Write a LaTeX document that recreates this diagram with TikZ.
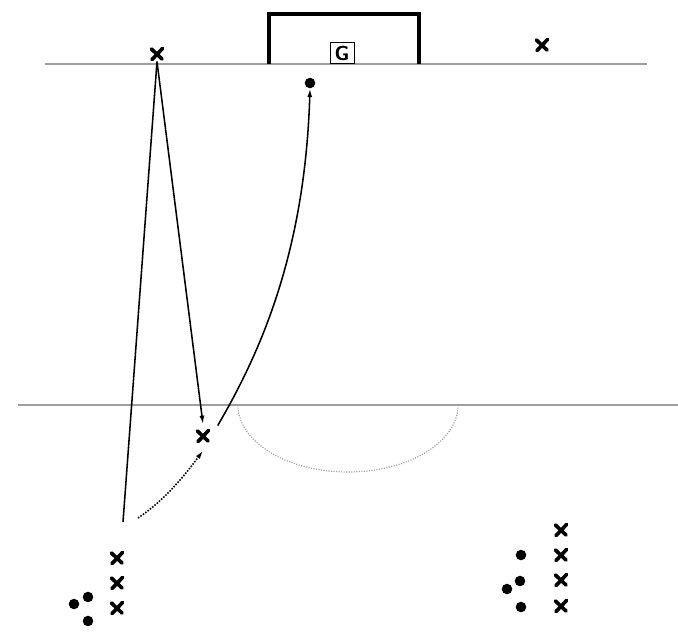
\documentclass[tikz,border=0pt]{standalone}
\usetikzlibrary{arrows.meta}
\tikzset{
  player/.style={minimum size=10.5pt, inner sep=0pt,
    path picture={\draw[line width=2.6pt, line cap=round]
      ([shift={(1.7pt,1.3pt)}]path picture bounding box.south west) -- ([shift={(-1.3pt,-1.3pt)}]path picture bounding box.north east)
      ([shift={(1.3pt,-1.7pt)}]path picture bounding box.north west) -- ([shift={(-1.7pt,1.7pt)}]path picture bounding box.south east);}},
  ball/.style={circle, fill=black, inner sep=0pt, minimum size=7.5pt},
  fieldline/.style={gray!75, line width=0.8pt},
  pass/.style={line width=1.1pt, -{Latex[length=6pt,width=3.5pt]}},
  run/.style={line width=1.1pt, densely dotted, -{Latex[length=6pt,width=3.5pt]}}
}
\begin{document}
\begin{tikzpicture}[x=0.025cm, y=-0.025cm]
  \useasboundingbox (0,0) rectangle (678,633);

  % Field lines
  \draw[fieldline] (45,64) -- (647,64);
  \draw[fieldline] (18,405) -- (678,405);
  \draw[gray!75, line width=0.8pt, densely dotted] (238,405) arc[start angle=180, end angle=0, x radius=110, y radius=67];

  % Goal
  \draw[line width=2.2pt] (269,64) -- (269,14) -- (419,14) -- (419,64);
  \node[draw, line width=0.6pt, inner sep=1pt, minimum width=17pt, minimum height=15pt, font=\sffamily\bfseries\Large] (keeper) at (342,53) {G};

  % Players
  \node[player] (wingL) at (157,54) {};
  \node[player] (wingR) at (542,45) {};
  \node[player] (striker) at (203,436) {};
  \node[ball] (target) at (310,83) {};

  % Left group
  \node[player] (l1) at (117,558) {};
  \node[player] (l2) at (117,583) {};
  \node[player] (l3) at (117,608) {};
  \node[ball] (lb1) at (88,597) {};
  \node[ball] (lb2) at (74,604) {};
  \node[ball] (lb3) at (88,621) {};

  % Right group
  \node[player] (r1) at (561,530) {};
  \node[player] (r2) at (561,555) {};
  \node[player] (r3) at (561,580) {};
  \node[player] (r4) at (561,606) {};
  \node[ball] (rb1) at (521,555) {};
  \node[ball] (rb2) at (520,581) {};
  \node[ball] (rb3) at (507,589) {};
  \node[ball] (rb4) at (521,607) {};

  % Passes and runs
  \coordinate (feed) at (123,522);
  \coordinate (runstart) at (138,518);
  \draw[line width=1.1pt] (feed) -- (wingL.south);
  \draw[pass] (wingL.south) -- ([yshift=3pt]striker.north);
  \draw[run] (runstart) .. controls (165,500) and (185,475) .. ([yshift=-5pt]striker.south);
  \draw[pass] ([xshift=5pt,yshift=2pt]striker.north east) .. controls (262,350) and (305,250) .. (target.south);
\end{tikzpicture}
\end{document}
